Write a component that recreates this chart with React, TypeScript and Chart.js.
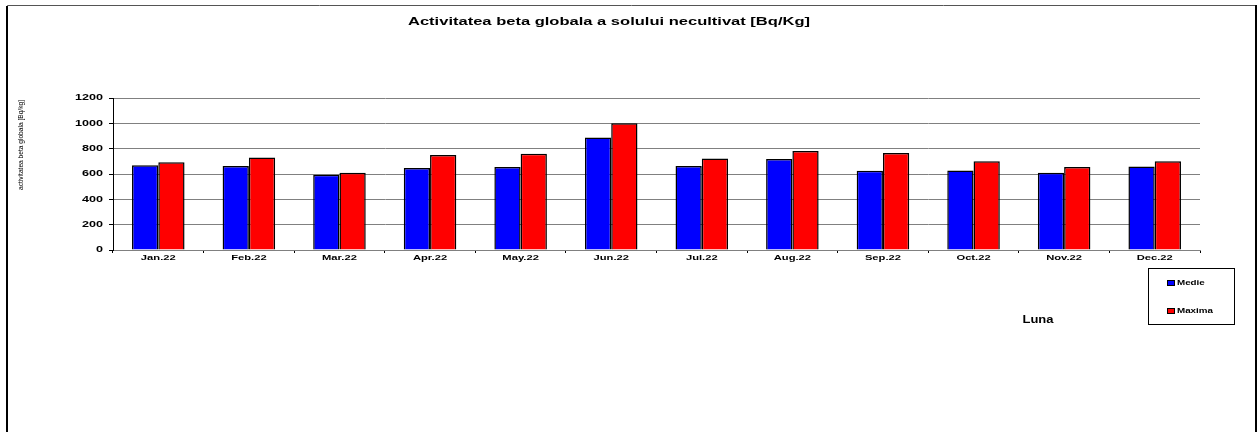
import React, { useEffect, useRef } from "react";
import { Chart, registerables } from "chart.js";

Chart.register(...registerables);

const categories = ["Jan.22", "Feb.22", "Mar.22", "Apr.22", "May.22", "Jun.22", "Jul.22", "Aug.22", "Sep.22", "Oct.22", "Nov.22", "Dec.22"];
const medie = [670, 663, 595, 648, 655, 889, 663, 718, 625, 628, 610, 660];
const maxima = [693, 730, 610, 750, 760, 1000, 723, 781, 765, 700, 655, 700];
const seriesNames = ["Medie", "Maxima"];
const seriesColors = ["#0000FF", "#FF0000"];
const chartTitle = "Activitatea beta globala a solului necultivat [Bq/Kg]";
const yTitle = "activitatea beta globala [Bq/kg]";
const xTitle = "Luna";

const FONT = "Arial, 'Liberation Sans', sans-serif";
const STRETCH = 1.4;

// draw text horizontally stretched by factor sx
function drawStretched(ctx: any, text: string, x: number, y: number, font: string, sx: number, align: "left" | "center" | "right") {
  ctx.font = font;
  const w = ctx.measureText(text).width * sx;
  let left = x;
  if (align === "center") left = x - w / 2;
  if (align === "right") left = x - w;
  ctx.save();
  ctx.translate(left, y);
  ctx.scale(sx, 1);
  ctx.textAlign = "left";
  ctx.fillText(text, 0, 0);
  ctx.restore();
}

function drawFit(ctx: any, text: string, x: number, y: number, font: string, target: number, align: "left" | "center" | "right") {
  ctx.font = font;
  const w = ctx.measureText(text).width;
  drawStretched(ctx, text, x, y, font, target / w, align);
}

const decorPlugin = {
  id: "decor",
  afterDraw(chart: any) {
    const ctx = chart.ctx as any;
    ctx.save();
    // outer border
    ctx.strokeStyle = "#555";
    ctx.lineWidth = 1;
    ctx.beginPath();
    ctx.moveTo(7.5, 440);
    ctx.lineTo(7.5, 5.5);
    ctx.lineTo(1255.5, 5.5);
    ctx.stroke();
    ctx.strokeStyle = "#000";
    ctx.lineWidth = 2;
    ctx.beginPath();
    ctx.moveTo(1256, 5);
    ctx.lineTo(1256, 440);
    ctx.moveTo(7, 6);
    ctx.lineTo(7, 440);
    ctx.stroke();

    ctx.fillStyle = "#000";
    ctx.textBaseline = "middle";

    // axis tick labels (from the library's scales)
    const xs = chart.scales.x;
    xs.ticks.forEach((t: any, i: number) => {
      const label = chart.data.labels[t.value ?? i];
      drawStretched(ctx, String(label), xs.getPixelForTick(i), 258, `bold 8px ${FONT}`, STRETCH, "center");
    });
    const ysc = chart.scales.y;
    ysc.ticks.forEach((t: any, i: number) => {
      drawStretched(ctx, String(t.value), 103, ysc.getPixelForTick(i), `bold 9px ${FONT}`, STRETCH, "right");
    });

    // title
    drawFit(ctx, chartTitle, 609, 22, `bold 11.5px ${FONT}`, 402, "center");

    // y title
    ctx.save();
    ctx.translate(21, 145);
    ctx.rotate(-Math.PI / 2);
    drawFit(ctx, yTitle, 0, 0, `7.5px ${FONT}`, 90, "center");
    ctx.restore();

    // x title
    drawFit(ctx, xTitle, 1038, 320, `bold 10px ${FONT}`, 31, "center");

    // legend box
    ctx.strokeStyle = "#000";
    ctx.lineWidth = 1;
    ctx.strokeRect(1148.5, 268.5, 86, 56);
    const ys = [283, 311];
    seriesNames.forEach((n, i) => {
      ctx.fillStyle = seriesColors[i];
      ctx.fillRect(1168, ys[i] - 2, 6, 4);
      ctx.strokeStyle = "#000";
      ctx.strokeRect(1167.5, ys[i] - 2.5, 7, 5);
      ctx.fillStyle = "#000";
      drawStretched(ctx, n, 1177, ys[i], `bold 7px ${FONT}`, STRETCH, "left");
    });
    ctx.restore();
  },
};

export default function App() {
  const ref = useRef<HTMLCanvasElement>(null);
  useEffect(() => {
    document.body.style.margin = "0";
    const chart = new Chart(ref.current!, {
      type: "bar",
      data: {
        labels: categories,
        datasets: [
          { label: seriesNames[0], data: medie, backgroundColor: seriesColors[0], borderColor: "#000", borderWidth: 1.5 },
          { label: seriesNames[1], data: maxima, backgroundColor: seriesColors[1], borderColor: "#000", borderWidth: 1.5 },
        ],
      },
      options: {
        animation: false,
        responsive: false,
        maintainAspectRatio: false,
        layout: { padding: { left: 0, top: 98, right: 58, bottom: 0 } },
        datasets: { bar: { barPercentage: 1, categoryPercentage: 0.58 } },
        plugins: { legend: { display: false }, title: { display: false }, tooltip: { enabled: false } },
        scales: {
          x: {
            offset: true,
            afterFit: (s: any) => { s.height = 182; },
            grid: { offset: true, drawOnChartArea: false, drawTicks: true, tickLength: 3, color: "#000" },
            border: { color: "#808080", width: 1 },
            ticks: { display: false, autoSkip: false, maxRotation: 0 },
          },
          y: {
            min: 0,
            max: 1200,
            afterFit: (s: any) => { s.width = 113; },
            ticks: { display: false, stepSize: 200 },
            grid: { color: "#808080", lineWidth: 1, drawTicks: true, tickLength: 4, tickColor: "#000" },
            border: { color: "#000", width: 1 },
          },
        },
      },
      plugins: [decorPlugin],
    });
    return () => chart.destroy();
  }, []);
  return <canvas ref={ref} width={1258} height={432} style={{ display: "block" }} />;
}
